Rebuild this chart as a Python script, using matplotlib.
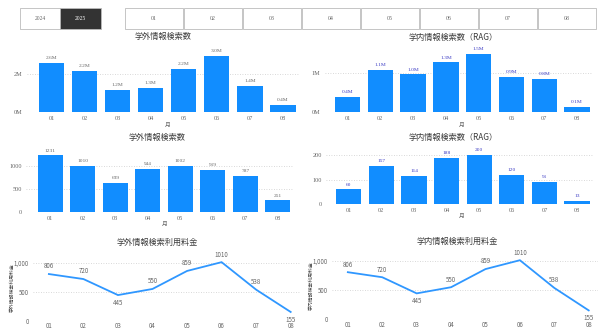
import matplotlib
matplotlib.use("Agg")
import matplotlib.pyplot as plt
from matplotlib.patches import Rectangle

plt.rcParams['font.family'] = ['Noto Sans CJK JP', 'DejaVu Sans']

# ---------------- data ----------------
years = ["2024", "2025"]
months = ["01", "02", "03", "04", "05", "06", "07", "08"]

ext_search_m = [2.58, 2.18, 1.18, 1.27, 2.25, 2.97, 1.38, 0.38]      # 学外情報検索数 (M)
int_rag_m = [0.39, 1.08, 0.97, 1.28, 1.49, 0.90, 0.85, 0.13]         # 学内情報検索数（RAG）(M)
ext_search_cnt = [1231, 1010, 639, 944, 1002, 919, 787, 251]         # 学外情報検索数
int_rag_cnt = [60, 157, 114, 188, 200, 120, 91, 13]                  # 学内情報検索数（RAG）
ext_fee = [806, 720, 445, 550, 859, 1010, 538, 155]                  # 学外情報検索利用料金
int_fee = [806, 720, 445, 550, 859, 1010, 538, 155]                  # 学内情報検索利用料金

W, H = 599, 331
fig = plt.figure(figsize=(W / 100, H / 100), dpi=100)
fig.patch.set_facecolor("white")


def rect(l, t, r, b):
    return [l / W, 1 - b / H, (r - l) / W, (b - t) / H]


def ftext(x, y, s, **kw):
    fig.text(x / W, 1 - y / H, s, **kw)


BAR = "#118DFF"
LINE = "#2f97ff"
GRAY = "#666666"
TITLE = "#3a3a3a"
BLUE_LBL = "#3b3bc4"
SERIF = ["Liberation Serif", "Noto Sans CJK JP"]

# ---------------- slicer buttons ----------------
btns = [(20, 60), (60, 101)]
for (l, r), yr in zip(btns, years):
    dark = yr == "2025"
    fig.patches.append(Rectangle((l / W, 1 - 29 / H), (r - l) / W, 21 / H,
                                 transform=fig.transFigure, facecolor="#333333" if dark else "white",
                                 edgecolor="#bbbbbb", linewidth=0.6))
    ftext((l + r) / 2, 18.5, yr, ha="center", va="center", fontsize=4,
          color="white" if dark else GRAY, family=SERIF)

x0 = 125
bw = 59
for i, m in enumerate(months):
    l = x0 + i * bw
    fig.patches.append(Rectangle((l / W, 1 - 29 / H), (bw - 1.5) / W, 21 / H,
                                 transform=fig.transFigure, facecolor="white",
                                 edgecolor="#bbbbbb", linewidth=0.6))
    ftext(l + (bw - 1.5) / 2, 18.5, m, ha="center", va="center", fontsize=4.2,
          color=GRAY, family=SERIF)


# ---------------- bar charts ----------------
def bar_chart(box, vals, ylim, ticks, ticklabels, labels, lblcolor, xleft=-0.75):
    ax = fig.add_axes(rect(*box))
    x = list(range(len(months)))
    ax.bar(x, vals, width=0.77, color=BAR, zorder=3)
    ax.set_xlim(xleft, 7.5)
    ax.set_ylim(*ylim)
    ax.set_xticks(x)
    ax.set_xticklabels(months, fontsize=4.5, color=GRAY, family=SERIF)
    ax.set_yticks(ticks)
    ax.set_yticklabels(ticklabels, fontsize=4.5, color=GRAY, family=SERIF)
    ax.tick_params(length=0, pad=3)
    for t in ticks:
        ax.axhline(t, color="#cccccc", lw=0.6, ls=(0, (1, 2)), zorder=1)
    for s in ax.spines.values():
        s.set_visible(False)
    for xi, v, lb in zip(x, vals, labels):
        ax.annotate(lb, (xi, v), xytext=(0, 2), textcoords="offset points",
                    ha="center", va="bottom", fontsize=3.9, color=lblcolor, family=SERIF)
    ax.set_facecolor("none")
    return ax


bar_chart((26.7, 47.4, 299.4, 112), ext_search_m, (0, 3.4), [0, 2], ["0M", "2M"],
          [f"{v:.1f}M" for v in ext_search_m], GRAY)
ftext(163, 36, "学外情報検索数", ha="center", va="center", fontsize=5.9, color=TITLE)
ftext(168, 125, "月", ha="center", va="center", fontsize=4.2, color=GRAY)

bar_chart((324.6, 48, 593.4, 112), int_rag_m, (0, 1.65), [0, 1], ["0M", "1M"],
          [f"{v:.1f}M" for v in int_rag_m], BLUE_LBL, xleft=-0.7)
ftext(453, 37, "学内情報検索数（RAG）", ha="center", va="center", fontsize=5.9, color=TITLE)
ftext(462, 125, "月", ha="center", va="center", fontsize=4.2, color=GRAY)

bar_chart((26, 150, 294.1, 212), ext_search_cnt, (0, 1350), [0, 500, 1000], ["0", "500", "1000"],
          [str(v) for v in ext_search_cnt], GRAY)
ftext(157, 137, "学外情報検索数", ha="center", va="center", fontsize=5.9, color=TITLE)
ftext(165, 224, "月", ha="center", va="center", fontsize=4.2, color=GRAY)

bar_chart((325.9, 149, 593.3, 204), int_rag_cnt, (0, 225), [0, 100, 200], ["0", "100", "200"],
          [str(v) for v in int_rag_cnt], BLUE_LBL, xleft=-0.7)
ftext(453, 137, "学内情報検索数（RAG）", ha="center", va="center", fontsize=5.9, color=TITLE)
ftext(462, 216, "月", ha="center", va="center", fontsize=4.2, color=GRAY)


# ---------------- line charts ----------------
def line_chart(box, vals, ylabel, ylabel_x):
    ax = fig.add_axes(rect(*box))
    x = list(range(len(months)))
    ax.plot(x, vals, color=LINE, lw=1.3, zorder=3, solid_joinstyle="miter")
    ax.set_xlim(-0.46, 7.27)
    ax.set_ylim(0, 1150)
    ax.set_xticks(x)
    ax.set_xticklabels(months, fontsize=4.4, color=GRAY)
    ax.set_yticks([0, 500, 1000])
    ax.set_yticklabels(["0", "500", "1,000"], fontsize=4.4, color=GRAY)
    ax.tick_params(length=0, pad=3)
    ax.tick_params(axis="x", pad=1)
    for t in [500, 1000]:
        ax.axhline(t, color="#cccccc", lw=0.6, ls=(0, (1, 2)), zorder=1)
    for s in ax.spines.values():
        s.set_visible(False)
    n = len(vals)
    for i, v in enumerate(vals):
        nb = [vals[j] for j in (i - 1, i + 1) if 0 <= j < n]
        below = all(v < w for w in nb)
        ax.annotate(str(v), (i, v), xytext=(0, -5.5 if below else 5.5), textcoords="offset points",
                    ha="center", va="center", fontsize=4.5, color=GRAY)
    ax.set_facecolor("none")
    fig.text(ylabel_x / W, 1 - (box[1] + box[3]) / 2 / H, ylabel, rotation=90,
             ha="center", va="center", fontsize=3.5, color="#444444")
    return ax


line_chart((33, 254, 300, 321), ext_fee, "学外情報検索利用料金", 12)
ftext(157, 242, "学外情報検索利用料金", ha="center", va="center", fontsize=5.9, color=TITLE)

line_chart((332, 252, 598, 319.5), int_fee, "学内情報検索利用料金", 311)
ftext(457, 241, "学内情報検索利用料金", ha="center", va="center", fontsize=5.9, color=TITLE)

fig.savefig("out.png", dpi=100)
